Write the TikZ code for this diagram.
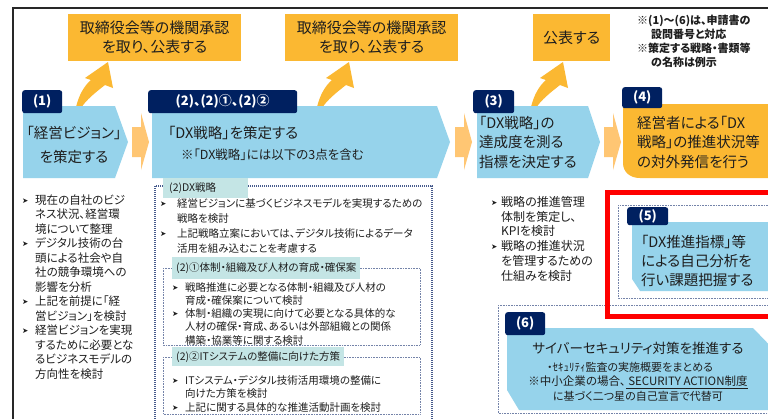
\documentclass[tikz,border=0pt]{standalone}
\usepackage{fontspec}
\setmainfont{Noto Sans CJK JP}[RawFeature=+palt]
\newfontfamily\dv{DejaVu Sans}
\definecolor{cNavy}{RGB}{0,32,96}
\definecolor{cBlue}{RGB}{150,211,235}
\definecolor{cOrange}{RGB}{251,184,50}
\definecolor{cChev}{RGB}{255,198,115}
\definecolor{cTeal}{RGB}{196,229,229}
\definecolor{cDot}{RGB}{70,90,140}
\definecolor{cText}{RGB}{30,30,30}
\definecolor{cFrame}{RGB}{40,40,40}
\definecolor{cRed}{RGB}{255,0,0}
\newcommand\fs[2]{\fontsize{#1}{#2}\selectfont}
\newcommand\bl[1]{\makebox[#1][l]{\raisebox{0.9pt}{\dv\fontsize{7.5}{7.5}\selectfont ➤}}}
\newcommand\ind[1]{\hspace*{#1}}
\tikzset{
  tab/.style={fill=cNavy, rounded corners=2.5pt, text=white, font=\fs{13}{13}\bfseries, inner sep=0pt, anchor=north west},
  obox/.style={fill=cOrange, text=cText, align=center, font=\fs{15}{19}, inner sep=0pt, anchor=north west},
  txt/.style={text=cText, inner sep=0pt},
  tlabel/.style={fill=cTeal, text=cText, anchor=north west, inner ysep=0pt, inner xsep=6pt, align=left},
  dotbox/.style={draw=cDot, dash pattern=on 1pt off 1pt, line width=1.2pt},
  dotthin/.style={draw=cDot!75, dash pattern=on 0.8pt off 0.8pt, line width=0.7pt},
  swoosh/.style={fill=cOrange},
  chev/.style={fill=cChev},
}
\begin{document}
\begin{tikzpicture}[x=1pt,y=-1pt]
\useasboundingbox (0,0) rectangle (768,418);
\clip (0,0) rectangle (768,418);
\fill[white] (0,0) rectangle (768,418);
% outer frame
\draw[line width=1.6pt, cFrame] (13,430) -- (13,8) -- (780,8);

% top orange boxes
\node[obox, minimum width=173pt, minimum height=47pt] (o1) at (68,14) {取締役会等の機関承認\\を取り、公表する};
\node[obox, minimum width=173pt, minimum height=47pt] (o2) at (285,14) {取締役会等の機関承認\\を取り、公表する};
\node[obox, minimum width=77pt, minimum height=47pt] (o3) at (533,14) {公表する};

% swoosh arrows
\foreach \dx in {0,241,455}{
  \fill[swoosh, shift={(\dx,0)}] (76,107) .. controls (79,95) and (84,86) .. (91,80) -- (85,78) -- (108,62) -- (113,88) -- (105,85) .. controls (96,92) and (86,100) .. (81,108) -- cycle;
}

% chevrons between steps
\foreach \cx in {132,455,604}{
  \fill[chev, shift={(\cx,0)}] (0,127) -- (9,127) -- (9,113) -- (17,142) -- (9,170) -- (9,157) -- (0,157) -- cycle;
}

% step shapes
\fill[cBlue] (23,106) -- (115,106) -- (128,142) -- (115,178) -- (23,178) -- cycle;
\fill[cBlue] (152,106) -- (437,106) -- (450,142) -- (437,178) -- (152,178) -- cycle;
\fill[cBlue] (477,106) -- (588,106) -- (600,142) -- (588,178) -- (477,178) -- cycle;
\fill[cOrange] (623,104) -- (780,104) -- (780,178) -- (640,178) .. controls (630,178) and (623,172) .. (623,163) -- cycle;

% tabs
\node[tab, minimum width=40pt, minimum height=23pt] (t1) at (22,90) {(1)};
\node[tab, minimum width=149pt, minimum height=23pt] (t2) at (148,90) {(2)、(2)①、(2)②};
\node[tab, minimum width=41pt, minimum height=23pt] (t3) at (473,90) {(3)};
\node[tab, minimum width=40pt, minimum height=21pt] (t4) at (622,87) {(4)};

% step texts
\node[txt, align=center, font=\fs{14.5}{24}] (d1) at (74,145) {「経営ビジョン」\\を策定する};
\node[txt, anchor=west, font=\fs{14.5}{14.5}] (d2a) at (168,133) {「DX戦略」を策定する};
\node[txt, anchor=west, font=\fs{12.5}{12.5}] (d2b) at (181,155) {※「DX戦略」には以下の3点を含む};
\node[txt, anchor=north west, align=left, font=\fs{14.5}{19.5}] (d3) at (479,116) {「DX戦略」の\\達成度を測る\\指標を決定する};
\node[txt, anchor=north west, align=left, font=\fs{14.5}{19.5}] (d4) at (637,116) {経営者による「DX\\戦略」の推進状況等\\の対外発信を行う};

% notes
\node[txt, anchor=north west, align=left, font=\fs{11}{14}\bfseries] (note) at (637,15) {※(1)～(6)は、申請書の\\\ind{14pt}設問番号と対応\\※策定する戦略・書類等\\\ind{14pt}の名称は例示};

% left bullets (1)
\node[txt, anchor=north west, align=left, font=\fs{11.5}{14.5}] (b1) at (22,194.5) {%
\bl{13pt}現在の自社のビジ\\
\ind{13pt}ネス状況、経営環\\
\ind{13pt}境について整理\\
\bl{13pt}デジタル技術の台\\
\ind{13pt}頭による社会や自\\
\ind{13pt}社の競争環境への\\
\ind{13pt}影響を分析\\
\bl{13pt}上記を前提に「経\\
\ind{13pt}営ビジョン」を検討\\
\bl{13pt}経営ビジョンを実現\\
\ind{13pt}するために必要とな\\
\ind{13pt}るビジネスモデルの\\
\ind{13pt}方向性を検討};

% (2) dotted area
\draw[dotbox] (155,186) rectangle (432,440);
\node[tlabel, minimum height=20pt, text width=73pt, font=\fs{10.5}{10.5}] (l2) at (163,178) {(2)DX戦略};
\node[txt, anchor=north west, align=left, font=\fs{10.5}{15}] (b2) at (160,198) {%
\bl{17pt}経営ビジョンに基づくビジネスモデルを実現するための\\
\ind{17pt}戦略を検討\\
\bl{17pt}上記戦略立案においては、デジタル技術によるデータ\\
\ind{17pt}活用を組み込むことを考慮する};

\draw[dotthin] (163,268) rectangle (420,345);
\node[tlabel, minimum height=22pt, font=\fs{10.5}{10.5}, inner xsep=4pt] (l21) at (172,257) {(2)①体制・組織及び人材の育成・確保案};
\node[txt, anchor=north west, align=left, font=\fs{10.5}{13.3}] (b21) at (172,282) {%
\bl{13pt}戦略推進に必要となる体制・組織及び人材の\\
\ind{13pt}育成・確保案について検討\\
\bl{13pt}体制・組織の実現に向けて必要となる具体的な\\
\ind{13pt}人材の確保・育成、あるいは外部組織との関係\\
\ind{13pt}構築・協業等に関する検討};

\draw[dotthin] (163,357) rectangle (420,414);
\node[tlabel, minimum height=19pt, font=\fs{10.5}{10.5}, inner xsep=4pt] (l22) at (172,347) {(2)②ITシステムの整備に向けた方策};
\node[txt, anchor=north west, align=left, font=\fs{10.5}{13.5}] (b22) at (172,375) {%
\bl{13pt}ITシステム・デジタル技術活用環境の整備に\\
\ind{13pt}向けた方策を検討\\
\bl{13pt}上記に関する具体的な推進活動計画を検討};

% (3) bullets
\node[txt, anchor=north west, align=left, font=\fs{12}{14.8}] (b3) at (491,196) {%
\bl{10pt}戦略の推進管理\\
\ind{10pt}体制を策定し、\\
\ind{10pt}KPIを検討\\
\bl{10pt}戦略の推進状況\\
\ind{10pt}を管理するための\\
\ind{10pt}仕組みを検討};

% (5)
\draw[dotthin] (618,205) rectangle (780,298);
\fill[cBlue] (632,222) -- (780,222) -- (780,291) -- (640,291) -- (632,279) -- cycle;
\node[tab, minimum width=41pt, minimum height=18pt] (t5) at (627,207) {(5)};
\node[txt, anchor=north west, align=left, font=\fs{14.5}{19}] (d5) at (641,235) {「DX推進指標」等\\による自己分析を\\行い課題把握する};

% (6)
\draw[dotthin] (498,305) rectangle (780,413);
\fill[cBlue] (507,328) -- (753,328) -- (780,356) -- (780,410) -- (519,410) -- (507,390) -- cycle;
\node[tab, minimum width=40pt, minimum height=23pt] (t6) at (505,312) {(6)};
\node[txt, font=\fs{13.5}{13.5}] (d6a) at (638,348) {サイバーセキュリティ対策を推進する};
\node[txt, font=\fs{11}{11}] (d6b) at (630,367) {・ｾｷｭﾘﾃｨ監査の実施概要をまとめる};
\node[txt, font=\fs{11.5}{11.5}] (d6c) at (638,382) {※中小企業の場合、\underline{ SECURITY ACTION制度}};
\node[txt, font=\fs{11}{11}] (d6d) at (638,396) {に基づく二つ星の自己宣言で代替可};

% red highlight
\draw[cRed, line width=5pt] (607,192) rectangle (790,316);
\end{tikzpicture}
\end{document}
